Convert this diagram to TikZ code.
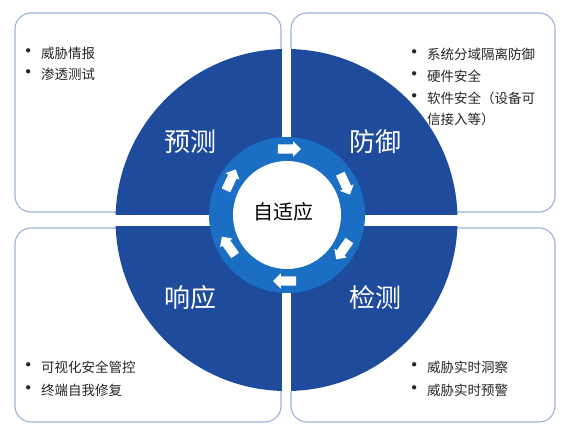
\documentclass[tikz,border=0pt]{standalone}
\usepackage{fontspec}
\usepackage{graphicx}
\setmainfont{Noto Sans CJK SC}
\usetikzlibrary{shapes.arrows}
\definecolor{discblue}{HTML}{1F4B9C}
\definecolor{ringblue}{HTML}{1A6FC5}
\definecolor{panelline}{HTML}{9DB3D6}
\newcommand{\bul}{\llap{\makebox[26pt]{\raisebox{-0.6pt}{\scalebox{1.5}{•}}}}}

\begin{document}
\begin{tikzpicture}[x=1pt,y=1pt,
  panel/.style={draw=panelline,line width=1.1pt,fill=white,rounded corners=16pt},
  item/.style={anchor=west,inner sep=0pt,text=black!85,font=\fontsize{13.5}{16}\selectfont},
  phase/.style={text=white,font=\fontsize{26}{30}\selectfont},
  turn/.style={single arrow,fill=white,draw=none,inner sep=4.5pt,minimum height=23pt,single arrow head extend=3pt}]
  \useasboundingbox (0,0) rectangle (588,424);

  \draw[panel] (15,411) rectangle (281,212);
  \draw[panel] (291,411) rectangle (555,212);
  \draw[panel] (15,196) rectangle (281,2);
  \draw[panel] (291,196) rectangle (555,2);

  \node[circle,fill=discblue,minimum size=342pt,inner sep=0pt] (disc) at (286.5,204) {};
  \draw[white,line width=9pt] (disc.north) -- (disc.south);
  \draw[white,line width=11pt] (disc.west) -- (disc.east);

  \node[circle,fill=ringblue,minimum size=156pt,inner sep=0pt] (ring) at (287,209) {};
  \node[circle,fill=white,minimum size=108pt,inner sep=0pt] (core) at (ring.center) {};

  \node[turn,rotate=0]    (a1) at ([shift={(90:66)}]ring.center)   {};
  \node[turn,rotate=-65]  (a2) at ([shift={(30:66)}]ring.center)   {};
  \node[turn,rotate=-125] (a3) at ([shift={(-30:66)}]ring.center)  {};
  \node[turn,rotate=180]  (a4) at ([shift={(-90:66)}]ring.center)  {};
  \node[turn,rotate=125]  (a5) at ([shift={(-150:66)}]ring.center) {};
  \node[turn,rotate=65]   (a6) at ([shift={(150:66)}]ring.center)  {};

  \node[font=\fontsize{20}{24}\selectfont] (self) at (283,212) {自适应};

  \node[phase] (predict) at (190,282) {预测};
  \node[phase] (defend)  at (375,282) {防御};
  \node[phase] (respond) at (190,126) {响应};
  \node[phase] (detect)  at (375,126) {检测};

  \node[item] (p1) at (41,371) {\bul 威胁情报};
  \node[item] (p2) at (41,350) {\bul 渗透测试};

  \node[item] (d1) at (427,370) {\bul 系统分域隔离防御};
  \node[item] (d2) at (427,348) {\bul 硬件安全};
  \node[item] (d3) at (427,326) {\bul 软件安全（设备可};
  \node[item] (d4) at (427,305) {信接入等）};

  \node[item] (r1) at (41,57) {\bul 可视化安全管控};
  \node[item] (r2) at (41,34) {\bul 终端自我修复};

  \node[item] (t1) at (427,57) {\bul 威胁实时洞察};
  \node[item] (t2) at (427,34) {\bul 威胁实时预警};
\end{tikzpicture}
\end{document}
